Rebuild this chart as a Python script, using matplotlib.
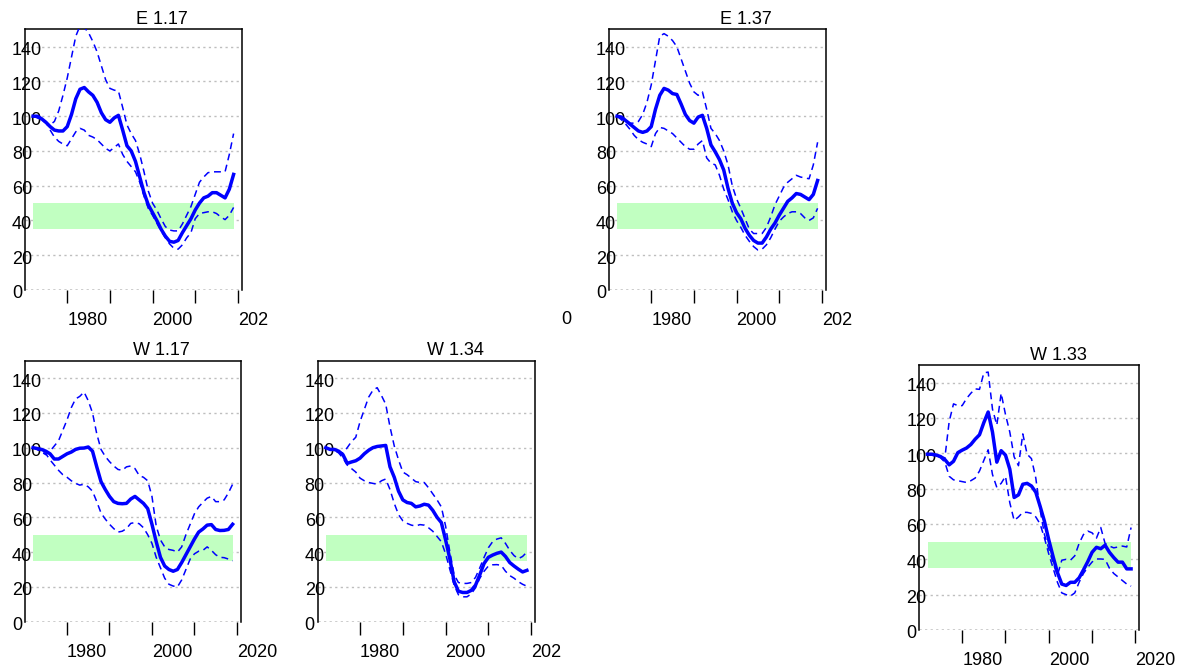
import numpy as np
import matplotlib.pyplot as plt
from matplotlib.transforms import offset_copy

plt.rcParams['font.family'] = ['Liberation Sans', 'DejaVu Sans']

years = np.arange(1972, 2020)
titles = ['E 1.17', 'E 1.37', 'W 1.17', 'W 1.34', 'W 1.33']
yticks = [0, 20, 40, 60, 80, 100, 120, 140]
xticks = [1980, 1990, 2000, 2010, 2020]
band_lo, band_hi = 35, 50

# E 1.17
e117_mid = [100, 100, 98.5, 96.5, 94, 92, 91.5, 91.5, 94, 101, 110, 115.5, 116.5, 114, 112, 108,
            102, 98, 96.5, 99, 100.5, 92, 83, 80, 74, 65, 56, 49, 44.5, 40, 35, 31, 28, 27.5,
            28.5, 33, 37, 41, 46, 50, 53, 54, 56, 56, 54.5, 53, 58, 66.5]
e117_hi = [100, 100, 98, 96, 95, 97, 103, 112, 122, 134, 146, 152, 151, 148, 143, 137, 129, 121,
           116, 115, 114.5, 105, 95, 90, 86, 78, 68, 57, 50, 46, 41, 36.5, 34.5, 34, 34, 38, 43,
           48, 55, 62, 65, 67.5, 68, 68, 68, 68, 78, 90]
e117_lo = [100, 99, 98, 96.5, 92, 88, 85.5, 84, 83, 87, 91, 93, 92, 89, 88, 86.5, 84, 81.5, 80,
           82, 84, 78, 74, 71, 68, 62, 54, 47, 43, 38.5, 34, 30, 26.5, 24, 23.5, 26, 30, 33, 41,
           44, 44.5, 45, 45, 44, 42, 40.5, 43, 47.5]

# E 1.37
e137_mid = [100, 99.5, 97.5, 95.5, 93.5, 91.5, 90.7, 91.5, 94, 104, 112, 116, 115, 113, 112.5,
            107, 101, 97.5, 96, 99.5, 100.5, 93, 83.5, 79.5, 75, 69, 58.5, 50, 44.5, 41, 35.5,
            31.5, 28.5, 27, 27, 30.5, 35, 38.5, 43, 47, 51, 53, 55.5, 55, 53.5, 52, 55, 63]
e137_hi = [100, 99, 98, 96, 96, 97, 101, 108, 118, 132, 146, 147.5, 146, 143.5, 140, 133, 126,
           119, 114, 112, 114, 104, 93, 90, 86, 80, 72, 60, 52.5, 47, 41, 35, 32.5, 32.5, 32.5,
           36, 42, 49, 54, 59, 62, 64, 66, 65, 64.5, 64, 72, 85]
e137_lo = [100, 98, 95.5, 92.5, 89, 86.5, 85, 84, 82.5, 90, 93.5, 93, 91.5, 90, 87.5, 85, 82.5,
           81, 81, 84, 86, 76, 73, 72, 66, 58, 52, 45, 40, 36, 31.5, 28, 25, 23, 23.5, 26, 30,
           35, 39.5, 42, 44, 45, 45, 44, 41.5, 40, 41.5, 47]

# W 1.17
w117_mid = [100, 99.5, 99, 98, 96.5, 93.5, 93.5, 95, 96.5, 97.5, 99, 99.7, 99.8, 100.4, 98, 89,
            80.5, 76, 72, 69, 68, 67.8, 68, 70.5, 72, 70, 68, 65, 56, 46, 37, 32, 30, 29, 30,
            34, 38.5, 43, 47.5, 51.5, 53.3, 55.5, 55.8, 53, 52.4, 52.5, 53, 56]
w117_hi = [100, 99, 97.5, 96, 98, 101, 104, 110, 116, 123, 128, 129.5, 132, 127, 120, 108, 99,
           95, 92, 89.5, 87.5, 87, 89, 89.5, 88, 84, 83, 81, 72, 55, 47, 43, 41.5, 41, 40, 43,
           50, 56, 62, 66, 68.6, 71, 72, 69, 69, 70, 74, 79]
w117_lo = [100, 99, 98, 96.5, 93, 90, 87, 84.5, 83, 81, 79.5, 78.5, 79, 77.5, 75, 69, 62.5, 59,
           56, 53.5, 51.5, 52, 53.5, 56.5, 57, 56.3, 54, 50, 45, 37, 31, 25, 21.5, 20.5, 20, 24,
           30, 36, 39, 40.5, 41, 43, 41, 38.5, 37, 36.8, 36, 35]

# W 1.34
w134_mid = [100, 99, 99, 98, 96, 91, 91.8, 92.5, 94, 96.5, 98.5, 100, 100.7, 101, 101.3, 89, 83,
            75, 70, 68.5, 68, 66, 66.5, 67.5, 67, 64, 60, 57, 47, 36, 23, 17.5, 16.8, 16.8, 18,
            21, 27, 33.5, 37, 38.3, 39.3, 40, 37.5, 34, 32, 30.2, 28.6, 29.5]
w134_hi = [100, 99, 98.5, 97.5, 97, 100, 103.5, 106, 115, 122, 129, 133, 134.5, 130, 125, 112,
           101, 93, 86, 84.5, 82.5, 80.5, 80, 80, 77, 73.5, 70, 66, 55, 40, 27, 22.5, 22, 22,
           22.5, 25.5, 31, 37, 42.5, 46, 47.5, 48.2, 45, 41, 38, 36.2, 37.5, 40]
w134_lo = [100, 99, 98.5, 97, 94, 90, 88, 86, 82.5, 81, 80, 79.5, 79, 81, 82, 76, 68, 61.5, 58,
           56.5, 55.5, 55, 55.8, 55.5, 54, 52, 49, 46, 39, 30, 21, 15.5, 14.3, 14.3, 16, 19.5,
           25, 29, 32, 32.7, 32.8, 32.4, 29, 26.5, 25, 23, 21.5, 20.4]

# W 1.33
w133_mid = [99.5, 99.5, 99, 98.2, 96.5, 93.5, 95.5, 100.4, 101.8, 103, 105, 108, 110.5, 117.4,
            123.4, 112, 95, 101.5, 99, 91, 75, 76.5, 82.5, 83, 81.5, 78, 70, 61.5, 51, 41.5,
            32.5, 26, 25.2, 27, 27, 29.5, 34, 38.7, 44, 46.8, 46, 48, 44, 41, 38.4, 38.4, 34.6,
            34.6]
w133_hi = [99.5, 99, 98.5, 98, 97.5, 118, 128, 127, 127, 131, 134, 136.5, 136.2, 145.5, 146,
           125, 116, 134, 122, 112, 98, 93, 111, 99.5, 97, 86, 68, 54, 46, 38, 31, 39.5, 40,
           39.5, 42, 49, 54, 56, 55, 52, 58, 49, 47.5, 46.5, 47, 47.5, 47, 58]
w133_lo = [99.5, 99, 98.5, 97.5, 95, 87, 85, 84.5, 84, 83.5, 84.5, 86, 90, 96, 102, 88, 80.7,
           83, 87, 72, 62, 64, 66.6, 66.6, 66, 64, 60, 52, 43, 35, 27, 21, 20, 19.2, 21, 27, 32,
           35.5, 38.5, 40.2, 40.2, 40, 35, 32, 30, 28, 26, 24.8]

series = [(e117_mid, e117_hi, e117_lo), (e137_mid, e137_hi, e137_lo),
          (w117_mid, w117_hi, w117_lo), (w134_mid, w134_hi, w134_lo),
          (w133_mid, w133_hi, w133_lo)]
# last x label of each panel as it shows (cut off on some panels)
last_label = ['202', '202', '2020', '202', '2020']

W, H = 1186, 671
fig = plt.figure(figsize=(W / 100, H / 100), dpi=100)

# panel boxes in pixels: left, top, right, bottom
boxes = [(25, 29.3, 241.7, 290), (609, 29.3, 825.7, 290),
         (25, 360.7, 240.7, 621.7), (317.7, 360.7, 535, 621.7),
         (919.3, 365, 1139.3, 630)]

for i, (l, t, r, b) in enumerate(boxes):
    ax = fig.add_axes([l / W, 1 - b / H, (r - l) / W, (b - t) / H])
    mid, hi, lo = series[i]
    ax.set_xlim(1970.1, 2020.9)
    ax.set_ylim(0, 150)
    for v in yticks[1:]:
        ax.axhline(v, color='#bebebe', lw=1.0, ls=(0, (1.6, 2.4)), zorder=1)
    ax.axhline(0, color='black', lw=1.0, ls=(0, (1.6, 2.4)), zorder=1)
    ax.fill_between(years, band_lo, band_hi, color='#c1ffc1', lw=0, zorder=2)
    ax.plot(years, hi, color='blue', lw=1.1, ls=(0, (4.5, 3)), zorder=3)
    ax.plot(years, lo, color='blue', lw=1.1, ls=(0, (4.5, 3)), zorder=3)
    ax.plot(years, mid, color='blue', lw=2.5, zorder=4)

    for s in ['left', 'top', 'right']:
        ax.spines[s].set_linewidth(1.1)
    ax.spines['bottom'].set_visible(False)
    ax.set_xticks(xticks)
    ax.set_xticklabels([])
    ax.set_yticks([])
    ax.tick_params(axis='x', direction='out', length=9.5, width=1.0)

    ytr = offset_copy(ax.get_yaxis_transform(), fig=fig, x=-13, y=-4, units='dots')
    for v in yticks:
        ax.text(0, v, str(v), transform=ytr, ha='left', va='center', fontsize=13,
                clip_on=False)
    xtr = offset_copy(ax.get_xaxis_transform(), fig=fig, y=-22, units='dots')
    for yr, lab in zip([1980, 2000, 2020], ['1980', '2000', last_label[i]]):
        ax.text(yr, 0, lab, transform=xtr, ha='left', va='top', fontsize=13, clip_on=False)

    fig.text(((l + r) / 2 + 29) / W, 1 - (t - 10) / H, titles[i], ha='center',
             va='center', fontsize=13)

# stray label fragment between the top panels
fig.text(566 / W, 1 - 319 / H, '0', ha='center', va='center', fontsize=13)

fig.savefig('out.png', dpi=100)
